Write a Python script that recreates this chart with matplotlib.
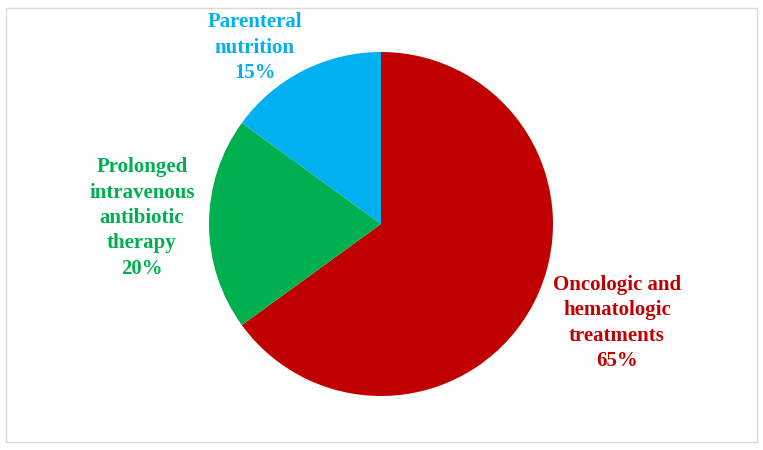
import matplotlib.pyplot as plt
from matplotlib.patches import Rectangle

categories = ["Oncologic and\nhematologic\ntreatments", "Prolonged\nintravenous\nantibiotic\ntherapy", "Parenteral\nnutrition"]
shares = [65, 20, 15]
colors = ["#C00000", "#00B050", "#00B0F0"]

# label anchor points, in pie radii from the centre
label_pos = [(1.372, -0.575), (-1.39, 0.035), (-0.733, 1.025)]

W, H = 763, 450
cx, cy, r = 381, 224, 172

fig = plt.figure(figsize=(W / 100, H / 100), dpi=100)
ax = fig.add_axes([0, 0, 1, 1])
ax.pie(shares, colors=colors, startangle=90, counterclock=False, radius=1)
ax.set_xlim(-cx / r, (W - cx) / r)
ax.set_ylim(-(H - cy) / r, cy / r)
ax.set_aspect("auto")
ax.axis("off")

for cat, v, c, (x, y) in zip(categories, shares, colors, label_pos):
    ax.text(x, y, f"{cat}\n{v}%", color=c, ha="center", va="center",
            fontsize=15, fontweight="bold", family="Liberation Serif", linespacing=1.36)

fig.patches.append(Rectangle((6 / W, 8 / H), 751 / W, 434 / H, transform=fig.transFigure,
                             fill=False, edgecolor="#d9d9d9", linewidth=1))

fig.savefig("out.png", dpi=100)
